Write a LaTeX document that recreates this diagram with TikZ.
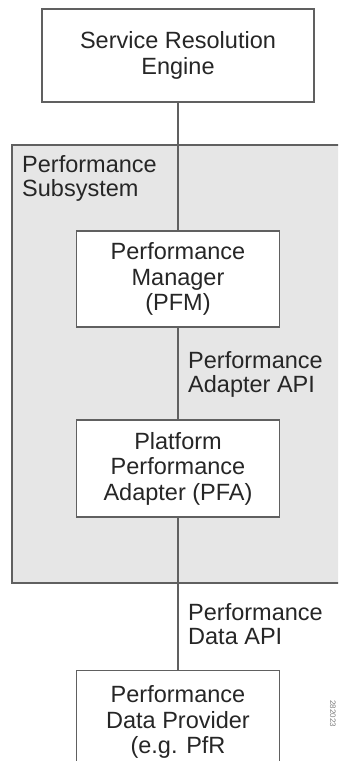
\documentclass[tikz,border=0pt]{standalone}
\usepackage{fontspec}
\setmainfont{Liberation Sans}
\definecolor{linegray}{HTML}{606060}
\definecolor{txtgray}{HTML}{262626}
\definecolor{subfill}{HTML}{E6E6E6}
\begin{document}
\begin{tikzpicture}[x=1pt,y=-1pt,
  box/.style={draw=linegray, line width=1.2pt, fill=white, text=txtgray,
    font=\fontsize{23.5}{25.5}\selectfont, align=center, inner sep=0pt,
    minimum width=203pt, minimum height=96pt},
  lbl/.style={text=txtgray, font=\fontsize{23.5}{24.5}\selectfont, align=left,
    inner sep=0pt, anchor=north west},
  conn/.style={draw=linegray, line width=1.2pt},
  subsys/.style={draw=linegray, line width=1.2pt, fill=subfill}]
\useasboundingbox (0,0) rectangle (338,761);
\clip (0,0) rectangle (338,761);
\fill[white] (0,0) rectangle (338,761);
% subsystem area
\path[subsys] (12,145) rectangle (350,583);
\node[lbl] (sublbl) at (22,155) {Performance\\Subsystem};
% boxes
\node[box, minimum width=272pt, minimum height=93pt] (sre) at (178,55.5) {Service Resolution\\Engine};
\node[box] (pfm) at (178,279) {Performance\\Manager\\(PFM)};
\node[box, minimum height=97pt] (pfa) at (178,468.5) {Platform\\Performance\\Adapter (PFA)};
\node[box, minimum height=0pt, inner ysep=15pt, anchor=north] (pdp) at (178,670) {Performance\\Data Provider\\(e.g. PfR};
% connectors
\draw[conn] (sre.south) -- (pfm.north);
\draw[conn] (pfm.south) -- (pfa.north);
\draw[conn] (pfa.south) -- (pdp.north);
% labels
\node[lbl] (adapi) at (188,351) {Performance\\Adapter API};
\node[lbl] (dataapi) at (188,603) {Performance\\Data API};
\node[text=gray, font=\fontsize{8}{9}\selectfont, rotate=-90, inner sep=0pt, anchor=west] (fignum) at (333,700) {282023};
\end{tikzpicture}
\end{document}
